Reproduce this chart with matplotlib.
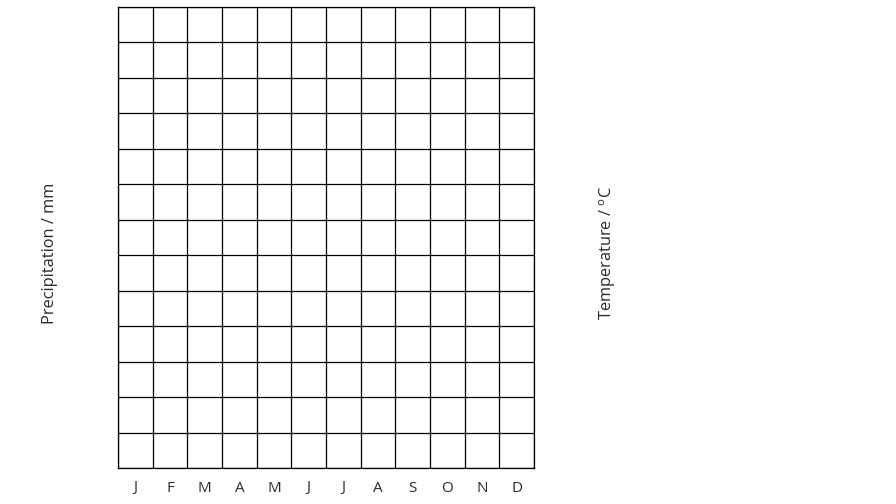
import matplotlib
matplotlib.use("Agg")
import matplotlib.pyplot as plt
import numpy as np

months = ["J", "F", "M", "A", "M", "J", "J", "A", "S", "O", "N", "D"]
n_rows = 13
y_left_label = "Precipitation / mm"
y_right_label = "Temperature / $^{\\mathrm{o}}$C"

plt.rcParams['font.family'] = ['Open Sans', 'DejaVu Sans']
plt.rcParams['mathtext.fontset'] = 'custom'
plt.rcParams['mathtext.rm'] = 'Open Sans'

fig = plt.figure(figsize=(8.96, 5.04), dpi=100)
ax = fig.add_axes([118/896, 36/504, 416/896, 461/504])
ax.set_xlim(0, len(months))
ax.set_ylim(0, n_rows)

ax.set_xticks(np.arange(len(months)) + 0.5)
ax.set_xticklabels(months, fontsize=11, color='#2b2b2b')
ax.tick_params(axis='x', length=0, pad=9)
ax.set_yticks([])
ax.set_xticks(np.arange(len(months) + 1), minor=True)
ax.set_yticks(np.arange(n_rows + 1), minor=True)
ax.tick_params(which='minor', length=0)
ax.grid(which='minor', color='black', linewidth=0.9)
ax.set_axisbelow(False)
for s in ax.spines.values():
    s.set_linewidth(0.9)

fig.text(50/896, 1 - 253/504, y_left_label, rotation=90, ha='center', va='center',
         fontsize=11.8, color='#2b2b2b')
fig.text(608/896, 1 - 253/504, y_right_label, rotation=90, ha='center', va='center',
         fontsize=11.8, color='#2b2b2b')

fig.savefig("out.png", dpi=100)
